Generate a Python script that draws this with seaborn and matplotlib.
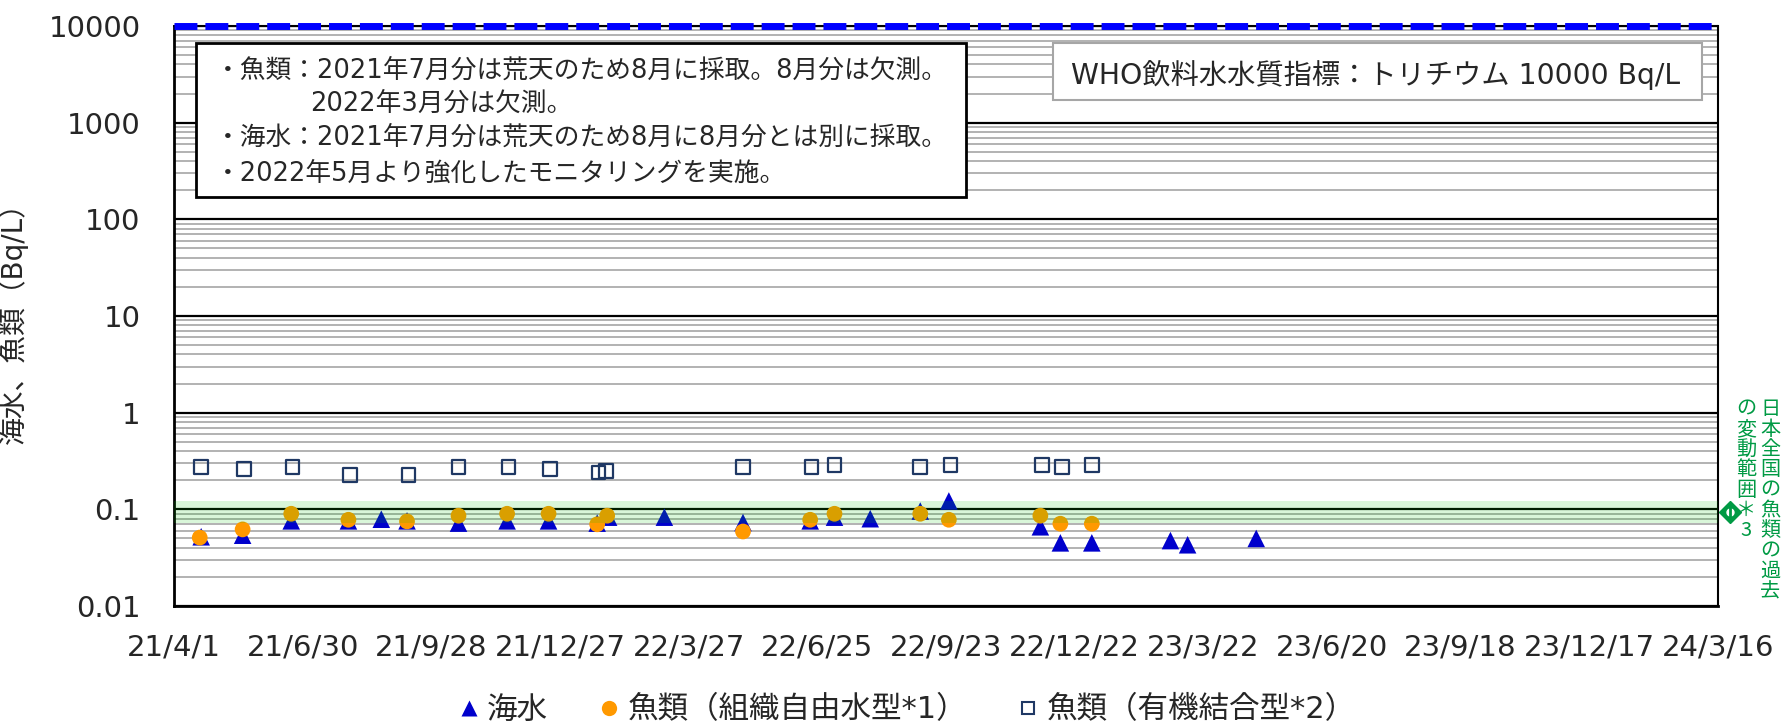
import numpy as np
import pandas as pd
import matplotlib
matplotlib.use("Agg")
import matplotlib.pyplot as plt
import matplotlib.dates as mdates
from matplotlib.ticker import FixedLocator, LogLocator, NullFormatter, FixedFormatter
from matplotlib.patches import Rectangle
from matplotlib.lines import Line2D
from matplotlib.transforms import blended_transform_factory
import seaborn as sns

# ---------------- data ----------------
sea_dates = ["2021-04-20", "2021-05-19", "2021-06-22", "2021-08-01", "2021-08-24",
             "2021-09-11", "2021-10-17", "2021-11-20", "2021-12-19", "2022-01-22",
             "2022-01-30", "2022-03-10", "2022-05-04", "2022-06-20", "2022-07-07",
             "2022-08-01", "2022-09-05", "2022-09-25", "2022-11-28", "2022-12-12",
             "2023-01-03", "2023-02-27", "2023-03-11", "2023-04-28"]
sea_values = [0.052, 0.054, 0.076, 0.076, 0.079,
              0.076, 0.072, 0.076, 0.076, 0.072,
              0.083, 0.083, 0.073, 0.076, 0.083,
              0.080, 0.096, 0.122, 0.066, 0.045,
              0.045, 0.0475, 0.043, 0.050]

fish_free_dates = ["2021-04-19", "2021-05-19", "2021-06-22", "2021-08-01", "2021-09-11",
                   "2021-10-17", "2021-11-20", "2021-12-19", "2022-01-22", "2022-01-29",
                   "2022-05-04", "2022-06-20", "2022-07-07", "2022-09-05", "2022-09-25",
                   "2022-11-28", "2022-12-12", "2023-01-03"]
fish_free_values = [0.051, 0.062, 0.090, 0.078, 0.075,
                    0.086, 0.090, 0.090, 0.070, 0.086,
                    0.059, 0.078, 0.090, 0.090, 0.078,
                    0.086, 0.071, 0.071]

fish_obt_dates = ["2021-04-20", "2021-05-20", "2021-06-23", "2021-08-02", "2021-09-12",
                  "2021-10-17", "2021-11-21", "2021-12-20", "2022-01-23", "2022-01-28",
                  "2022-05-04", "2022-06-21", "2022-07-07", "2022-09-05", "2022-09-26",
                  "2022-11-29", "2022-12-13", "2023-01-03"]
fish_obt_values = [0.275, 0.260, 0.275, 0.228, 0.228,
                   0.275, 0.275, 0.260, 0.240, 0.250,
                   0.275, 0.275, 0.289, 0.275, 0.289,
                   0.289, 0.275, 0.289]

x_tick_labels = ["21/4/1", "21/6/30", "21/9/28", "21/12/27", "22/3/27", "22/6/25",
                 "22/9/23", "22/12/22", "23/3/22", "23/6/20", "23/9/18", "23/12/17", "24/3/16"]
y_tick_values = [0.01, 0.1, 1, 10, 100, 1000, 10000]
y_tick_labels = ["0.01", "0.1", "1", "10", "100", "1000", "10000"]

who_level = 10000
band_low, band_high = 0.072, 0.1225

series_labels = ["海水", "魚類（組織自由水型*1）", "魚類（有機結合型*2）"]
note_lines = ["・魚類：2021年7月分は荒天のため8月に採取。8月分は欠測。",
              "2022年3月分は欠測。",
              "・海水：2021年7月分は荒天のため8月に8月分とは別に採取。",
              "・2022年5月より強化したモニタリングを実施。"]
who_text = "WHO飲料水水質指標：トリチウム 10000 Bq/L"
ylabel_text = "海水、魚類（Bq/L）"
side_col1 = "日本全国の魚類の過去"
side_col2 = "の変動範囲＊3"

# ---------------- style ----------------
sns.set_theme(style="white")
plt.rcParams["font.family"] = ["DejaVu Sans", "Noto Sans CJK JP"]

BLUE = "#0000CC"
ORANGE = "#FF9900"
NAVY = "#1F3864"
GREEN = "#009A44"

sea_df = pd.DataFrame({"date": pd.to_datetime(sea_dates), "value": sea_values})
free_df = pd.DataFrame({"date": pd.to_datetime(fish_free_dates), "value": fish_free_values})
obt_df = pd.DataFrame({"date": pd.to_datetime(fish_obt_dates), "value": fish_obt_values})

W, H = 1783, 721
fig = plt.figure(figsize=(W / 100, H / 100), dpi=100)
ax = fig.add_axes([174 / W, 1 - 606 / H, 1544 / W, 580 / H])

sns.scatterplot(data=sea_df, x="date", y="value", marker="^", s=160, color=BLUE,
                edgecolor="none", linewidth=0, ax=ax, zorder=3, legend=False)
sns.scatterplot(data=free_df, x="date", y="value", marker="o", s=128, color=ORANGE,
                edgecolor="none", linewidth=0, ax=ax, zorder=4, legend=False)
sns.scatterplot(data=obt_df, x="date", y="value", marker="s", s=95, facecolor="none",
                edgecolor=NAVY, linewidth=1.6, ax=ax, zorder=4, legend=False)

ax.set_yscale("log")
ax.set_ylim(0.01, 10000)
tick_dates = pd.to_datetime(x_tick_labels, format="%y/%m/%d")
ax.set_xlim(tick_dates[0], tick_dates[-1])

# band (drawn over markers, translucent)
ax.axhspan(band_low, band_high, color=(0.0, 0.78, 0.0), alpha=0.15, lw=0, zorder=5)

# y axis
ax.yaxis.set_major_locator(FixedLocator(y_tick_values))
ax.yaxis.set_major_formatter(FixedFormatter(y_tick_labels))
ax.yaxis.set_minor_locator(LogLocator(base=10, subs=np.arange(2, 10)))
ax.yaxis.set_minor_formatter(NullFormatter())
ax.tick_params(axis="y", which="both", length=0, labelsize=21, pad=24)
ax.grid(False)
ax.grid(which="minor", axis="y", color="#A6A6A6", lw=1.2)
ax.grid(which="major", axis="y", color="black", lw=1.6)
ax.set_axisbelow(True)

# x axis
ax.xaxis.set_major_locator(FixedLocator(mdates.date2num(tick_dates)))
ax.xaxis.set_major_formatter(FixedFormatter(x_tick_labels))
minor_pos = []
for d in tick_dates[:-1]:
    minor_pos += [d + pd.Timedelta(days=30), d + pd.Timedelta(days=60)]
ax.xaxis.set_minor_locator(FixedLocator(mdates.date2num(pd.DatetimeIndex(minor_pos))))
ax.tick_params(axis="x", which="major", direction="inout", length=14, width=1.5,
               color="black", labelsize=21, pad=13)
ax.tick_params(axis="x", which="minor", direction="out", length=6, width=1.5, color="black")
ax.set_xlabel("")
ax.set_ylabel(ylabel_text, fontsize=20)
ax.yaxis.set_label_coords((28 - 174) / 1544, 0.5)

for side in ["left", "bottom"]:
    ax.spines[side].set_color("black")
    ax.spines[side].set_linewidth(2)
ax.spines["right"].set_color("black")
ax.spines["right"].set_linewidth(1.5)
ax.spines["top"].set_visible(False)

# WHO guideline dashed line
ax.axhline(who_level, color="black", lw=1.5, zorder=6, clip_on=False)
ax.axhline(who_level, color="#0000FF", lw=5, linestyle=(0, (3.3, 1.15)),
           zorder=7, clip_on=False)

# note box
ax.add_patch(Rectangle((0.0142, 0.705), 0.499, 0.2657, transform=ax.transAxes,
                       facecolor="white", edgecolor="black", lw=2, zorder=8))
ax.text(0.0262, 0.923, note_lines[0], transform=ax.transAxes, fontsize=18.5,
        va="center", ha="left", zorder=9)
ax.text(0.0884, 0.866, note_lines[1], transform=ax.transAxes, fontsize=18.5,
        va="center", ha="left", zorder=9)
ax.text(0.0262, 0.8076, note_lines[2], transform=ax.transAxes, fontsize=18.5,
        va="center", ha="left", zorder=9)
ax.text(0.0262, 0.745, note_lines[3], transform=ax.transAxes, fontsize=18.5,
        va="center", ha="left", zorder=9)

# WHO box
ax.add_patch(Rectangle((0.569, 0.872), 0.4206, 0.0987, transform=ax.transAxes,
                       facecolor="white", edgecolor="#A6A6A6", lw=1.5, zorder=8))
ax.text(0.7785, 0.9155, who_text, transform=ax.transAxes, fontsize=20.3,
        va="center", ha="center", zorder=9)

# side marker for band
trans = blended_transform_factory(ax.transAxes, ax.transData)
mid = np.sqrt(band_low * band_high)
ax.plot([1.0078], [mid], marker="D", ms=11, color=GREEN, mec=GREEN,
        transform=trans, clip_on=False, zorder=9)
ax.plot([1.0078], [mid], marker="o", ms=5, color="white", mec="white",
        transform=trans, clip_on=False, zorder=10)
ax.plot([1.0078], [mid], marker="|", ms=9, mew=2, color=GREEN,
        transform=trans, clip_on=False, zorder=11)

# vertical side text (one glyph per row, tategaki)
pitch = 20.3
for col_text, xc in [(side_col1, 1770), (side_col2, 1746)]:
    for i, ch in enumerate(col_text):
        fig.text(xc / W, 1 - (409 + i * pitch) / H, ch, fontsize=14.5, color=GREEN,
                 ha="center", va="center", family=["Noto Sans CJK JP"])

# legend
handles = [Line2D([], [], marker="^", color=BLUE, ls="none", ms=12, mec="none"),
           Line2D([], [], marker="o", color=ORANGE, ls="none", ms=11, mec="none"),
           Line2D([], [], marker="s", mfc="none", mec=NAVY, ls="none", ms=8, mew=1.5)]
fig.legend(handles, series_labels, loc="center", bbox_to_anchor=(0.509, 1 - 710 / H),
           ncol=3, frameon=False, fontsize=22, handlelength=0.6, handletextpad=0.3,
           columnspacing=1.7)

fig.savefig("out.png", dpi=100)
